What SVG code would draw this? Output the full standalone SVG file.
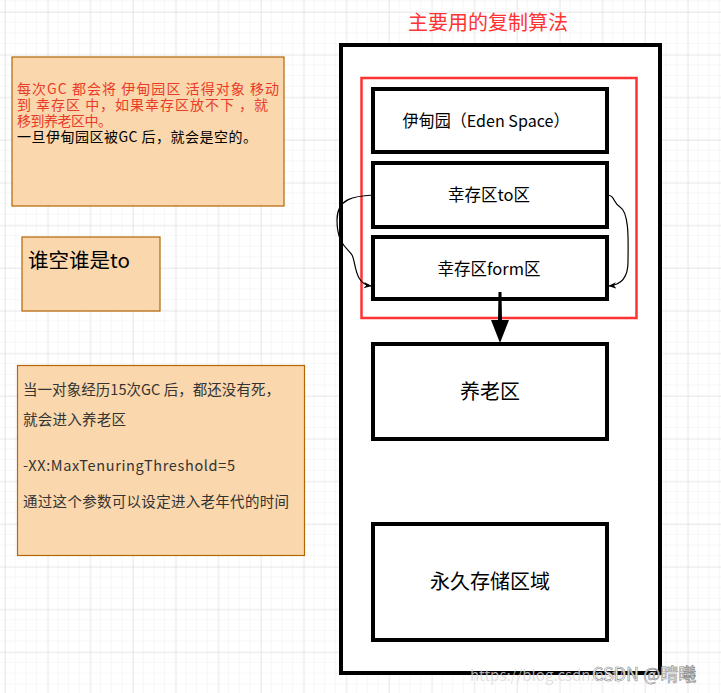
<svg xmlns="http://www.w3.org/2000/svg" width="721" height="693" viewBox="0 0 721 693">
<defs>
<pattern id="minor" x="5" y="12" width="10.67" height="10.67" patternUnits="userSpaceOnUse">
<path d="M10.67 0V10.67H0" fill="none" stroke="#f0f0f0" stroke-width="1"/>
</pattern>
<pattern id="major" x="5" y="12" width="42.67" height="42.67" patternUnits="userSpaceOnUse">
<path d="M0 0V42.67M0 0H42.67" fill="none" stroke="#dcdcdc" stroke-width="1"/>
</pattern>
<marker id="ah" viewBox="0 0 10 10" refX="9" refY="5" markerWidth="8" markerHeight="8" orient="auto" markerUnits="userSpaceOnUse">
<path d="M0,1 L10,5 L0,9 L3,5 Z" fill="#000"/>
</marker>
</defs>
<style>
text{font-family:"Noto Sans CJK SC","Microsoft YaHei",sans-serif;}
.box{fill:#fff;stroke:#000;stroke-width:4;}
.note{fill:#fad7ac;stroke:#b46504;stroke-width:1.2;}
.lbl{font-size:16.5px;fill:#000;text-anchor:middle;}
.big{font-size:20px;fill:#000;text-anchor:middle;}
.conn{fill:none;stroke:#000;stroke-width:1.2;}
</style>
<rect width="721" height="693" fill="#fff"/>
<rect width="721" height="693" fill="url(#minor)"/>
<rect width="721" height="693" fill="url(#major)"/>

<g id="title"><text x="488" y="30" font-size="20" fill="#ff3333" text-anchor="middle">主要用的复制算法</text></g>

<g id="outer"><rect x="341" y="45" width="319" height="628" class="box"/></g>
<g id="survivorFrame"><rect x="361.5" y="78" width="275" height="240" fill="none" stroke="#ff3333" stroke-width="2.5"/></g>

<g id="eden"><rect x="373" y="89" width="234" height="63" class="box"/><text x="486" y="127" class="lbl" font-size="17" textLength="167" lengthAdjust="spacingAndGlyphs">伊甸园（Eden Space）</text></g>
<g id="to"><rect x="373" y="163" width="234" height="64" class="box"/><text x="489" y="201" class="lbl">幸存区to区</text></g>
<g id="form"><rect x="373" y="237" width="234" height="62" class="box"/><text x="489" y="275" class="lbl">幸存区form区</text></g>
<g id="old"><rect x="373" y="344" width="234" height="95" class="box"/><text x="490" y="399" class="big">养老区</text></g>
<g id="perm"><rect x="373" y="524" width="234" height="116" class="box"/><text x="490" y="589" class="big">永久存储区域</text></g>

<g id="connectors">
<path class="conn" d="M373,195 C355,196 337,198 337,220 C337,245 348,248 352,255 C356,262 354,284 371,286" marker-end="url(#ah)"/>
<path class="conn" d="M607,195 C615,195 613,203 620,207 C630,213 628,245 628,262 C628,278 620,285 609,286" marker-end="url(#ah)"/>
<path d="M498.5,292 L501.5,292 L502,320 L509,320 L500,343 L491,320 L498,320 Z" fill="#000"/>
</g>

<g id="note1">
<rect x="12" y="57" width="272" height="149" class="note"/>
<g font-size="14">
<text x="17" y="94" fill="#ea3b2a" textLength="262" lengthAdjust="spacing">每次GC 都会将 伊甸园区 活得对象 移动</text>
<text x="17" y="110" fill="#ea3b2a" textLength="251" lengthAdjust="spacing">到 幸存区 中，如果幸存区放不下 ，就</text>
<text x="17" y="126" fill="#ea3b2a" textLength="95" lengthAdjust="spacing">移到养老区中。</text>
<text x="17" y="142" fill="#000" textLength="240" lengthAdjust="spacing">一旦伊甸园区被GC 后，就会是空的。</text>
</g>
</g>

<g id="note2">
<rect x="22" y="237" width="138" height="74" class="note"/>
<text x="28" y="268" font-size="20" fill="#000" textLength="102" lengthAdjust="spacingAndGlyphs">谁空谁是to</text>
</g>

<g id="note3">
<rect x="17.5" y="365.5" width="287" height="190" class="note"/>
<g font-size="14.5" fill="#333">
<text x="23" y="395" textLength="257" lengthAdjust="spacing">当一对象经历15次GC 后，都还没有死，</text>
<text x="23" y="425" textLength="103" lengthAdjust="spacing">就会进入养老区</text>
<text x="23" y="471" textLength="212" lengthAdjust="spacing">-XX:MaxTenuringThreshold=5</text>
<text x="23" y="507" textLength="266" lengthAdjust="spacing">通过这个参数可以设定进入老年代的时间</text>
</g>
</g>

<g id="watermark">
<text x="470" y="681" font-size="15" fill="#d8d8d8" fill-opacity="0.8">https://blog.csdn.net/</text>
<text x="592" y="681" font-size="18" fill="#fff" stroke="#888" stroke-width="0.6">CSDN @晴曦</text>
</g>
</svg>
